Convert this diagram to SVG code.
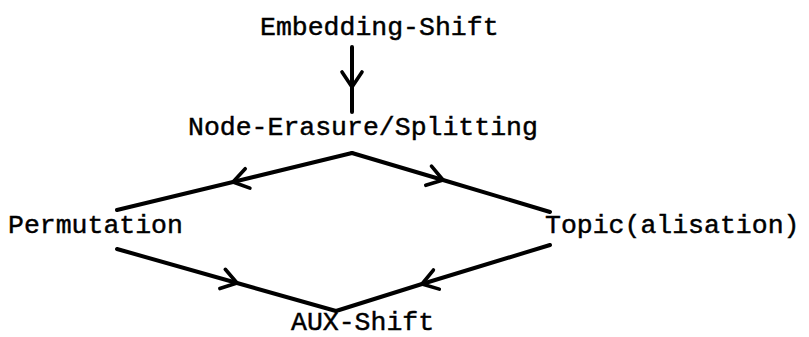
<svg xmlns="http://www.w3.org/2000/svg" width="809" height="337" viewBox="0 0 809 337">
  <style>
    .lbl { font-family: "Liberation Mono", "DejaVu Sans Mono", monospace; font-size: 26.5px; fill: #000; stroke: #000; stroke-width: 0.45px; }
    .edge { fill: none; stroke: #000; stroke-width: 4; stroke-linecap: round; stroke-linejoin: round; marker-mid: url(#chev); }
  </style>
  <defs>
    <marker id="chev" markerUnits="userSpaceOnUse" viewBox="-20 -14 24 28" refX="0" refY="0" markerWidth="24" markerHeight="28" orient="auto" overflow="visible">
      <path d="M-15,-10 L0,0 L-15,10" fill="none" stroke="#000" stroke-width="3.6" stroke-linecap="round" stroke-linejoin="round"/>
    </marker>
  </defs>
  <rect width="809" height="337" fill="#fff"/>
  <g id="connectors">
    <path class="edge" d="M352,47 L352,87 L352,112"/>
    <path class="edge" d="M352,153 L233,182 L117,210"/>
    <path class="edge" d="M352,153 L443,180 L550,212"/>
    <path class="edge" d="M117,249 L237,283 L336,311"/>
    <path class="edge" d="M550,245 L422,284 L336,311"/>
  </g>
  <g id="embedding-shift"><text class="lbl" x="260" y="35">Embedding-Shift</text></g>
  <g id="node-erasure"><text class="lbl" x="188" y="135">Node-Erasure/Splitting</text></g>
  <g id="permutation"><text class="lbl" x="8" y="233">Permutation</text></g>
  <g id="topicalisation"><text class="lbl" x="545" y="233">Topic(alisation)</text></g>
  <g id="aux-shift"><text class="lbl" x="291" y="330">AUX-Shift</text></g>
</svg>
